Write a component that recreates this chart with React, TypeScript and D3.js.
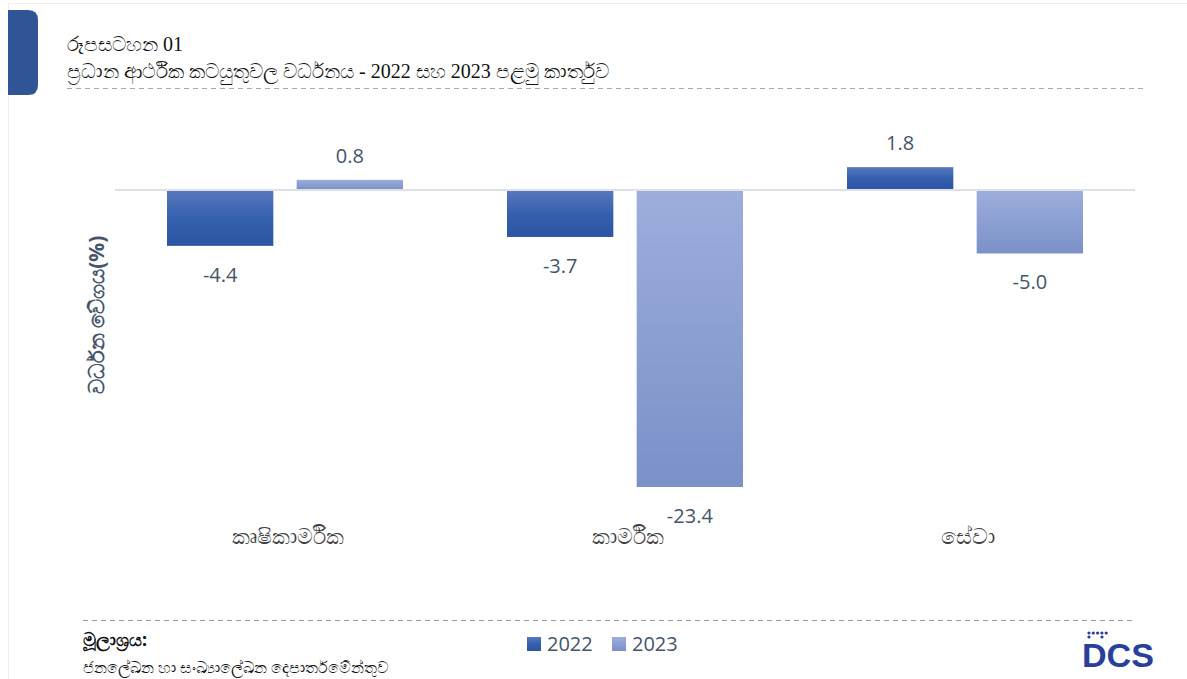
import React from "react";
import * as d3 from "d3";

const categories = ["කෘෂිකාර්මික", "කාර්මික", "සේවා"];
const seriesNames = ["2022", "2023"];
const values2022 = [-4.4, -3.7, 1.8];
const values2023 = [0.8, -23.4, -5.0];

const W = 1187;
const H = 679;
const plot = { left: 115, right: 1135, zeroY: 190 };

export default function App() {
  const x0 = d3.scaleBand<string>().domain(categories).range([plot.left, plot.right]).paddingInner(0).paddingOuter(0);
  const x1 = d3.scaleBand<string>().domain(seriesNames).range([52, 288]).paddingInner(0.18);
  const y = d3.scaleLinear().domain([0, -23.4]).range([plot.zeroY, 487]);
  const series = [values2022, values2023];
  const grads = ["g2022", "g2023"];
  const txt = "#44546A";
  const numFont = "'Open Sans', 'Liberation Sans', sans-serif";

  return (
    <svg width={W} height={H} style={{ position: "absolute", left: 0, top: 0, background: "#fff" }}>
      <defs>
        <linearGradient id="g2022" x1="0" y1="0" x2="0" y2="1">
          <stop offset="0" stopColor="#5877BD" />
          <stop offset="0.5" stopColor="#3460AE" />
          <stop offset="1" stopColor="#2C55A3" />
        </linearGradient>
        <linearGradient id="g2023" x1="0" y1="0" x2="0" y2="1">
          <stop offset="0" stopColor="#9DAEDC" />
          <stop offset="1" stopColor="#7A90C7" />
        </linearGradient>
      </defs>
      <line x1={8} x2={W} y1={3.5} y2={3.5} stroke="#eeeeee" strokeWidth={1} />
      <line x1={8.5} x2={8.5} y1={3} y2={H} stroke="#eeeeee" strokeWidth={1} />
      <path d="M8,10 H28 Q38,10 38,20 V85 Q38,95 28,95 H8 Z" fill="#2F5597" />
      <g fontFamily="'Liberation Serif', 'DejaVu Serif', serif" fill="#111" fontSize={20}>
        <text x={67} y={51}>රූපසටහන 01</text>
        <text x={67} y={78}>ප්‍රධාන ආර්ථික කටයුතුවල වර්ධනය - 2022 සහ 2023 පළමු කාර්තුව</text>
      </g>
      <line x1={67} x2={1143} y1={88.5} y2={88.5} stroke="#aaaaaa" strokeDasharray="5,4" />

      <line x1={plot.left} x2={plot.right} y1={plot.zeroY} y2={plot.zeroY} stroke="#DDE0E6" strokeWidth={2} />

      {categories.map((c, ci) => (
        <g key={c} transform={`translate(${x0(c)},0)`}>
          {series.map((vals, si) => {
            const v = vals[ci];
            const bx = x1(seriesNames[si])!;
            const bw = x1.bandwidth();
            const top = v >= 0 ? y(v) : plot.zeroY + 1;
            const bottom = v >= 0 ? plot.zeroY - 1 : y(v);
            const ly = v >= 0 ? y(v) - 17 : y(v) + 36;
            return (
              <g key={si}>
                <rect x={bx} y={top} width={bw} height={bottom - top} fill={`url(#${grads[si]})`} />
                <text x={bx + bw / 2} y={ly} textAnchor="middle" fontFamily={numFont} fontSize={20} fill={txt}>
                  {v.toFixed(1)}
                </text>
              </g>
            );
          })}
          <text x={x0.bandwidth() / 2 + 3} y={544} textAnchor="middle" fontFamily="'Noto Sans', sans-serif" fontSize={22} fill="#404040">
            {c}
          </text>
        </g>
      ))}

      <text transform="translate(104,315) rotate(-90)" textAnchor="middle" fontFamily="'Noto Sans', sans-serif" fontWeight="bold" fontSize={21} fill={txt}>
        වර්ධන වේගය(%)
      </text>

      <line x1={83} x2={1133} y1={620.5} y2={620.5} stroke="#999999" strokeDasharray="5,4" />
      <text x={83} y={646} fontFamily="'Noto Sans', sans-serif" fontWeight="bold" fontSize={18} fill="#111">මූලාශ්‍රය:</text>
      <text x={83} y={673} fontFamily="'Noto Sans', sans-serif" fontSize={16} fill="#111">ජනලේඛන හා සංඛ්‍යාලේඛන දෙපාර්තමේන්තුව</text>

      {seriesNames.map((s, i) => (
        <g key={s} transform={`translate(${527 + i * 85},637)`}>
          <rect width={14} height={14} fill={`url(#${grads[i]})`} />
          <text x={20} y={14} fontFamily={numFont} fontSize={20} fill={txt}>{s}</text>
        </g>
      ))}

      <g fill="#2A3F9C">
        {[0, 1, 2, 3, 4].map((i) => (
          <circle key={"a" + i} cx={1089 + i * 4.3} cy={633} r={1.6} />
        ))}
        <circle cx={1102} cy={637} r={1.6} />
        <circle cx={1089} cy={637} r={1.6} />
        <text x={1082} y={667} fontFamily="'Liberation Sans', Arial, sans-serif" fontWeight="bold" fontSize={34} textLength={72} lengthAdjust="spacingAndGlyphs">DCS</text>
      </g>
    </svg>
  );
}
